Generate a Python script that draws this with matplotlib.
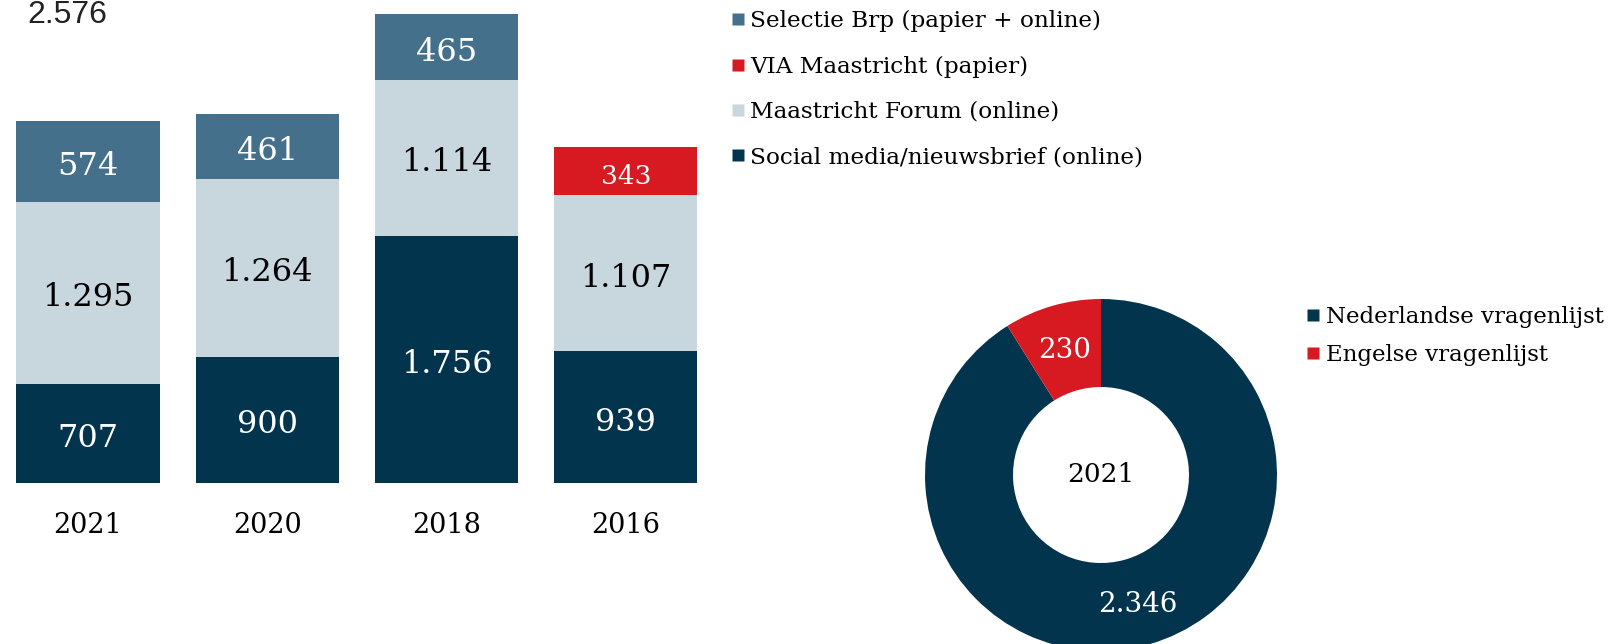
import matplotlib
matplotlib.use("Agg")
import matplotlib.pyplot as plt
import matplotlib.transforms as mtransforms
import numpy as np
from matplotlib.lines import Line2D

# data
jaren = ['2021', '2020', '2018', '2016']
social = [707, 900, 1756, 939]
forum = [1295, 1264, 1114, 1107]
brp = [574, 461, 465, 0]
via = [0, 0, 0, 343]
totaal_label = '2.576'

taal_labels = ['Nederlandse vragenlijst', 'Engelse vragenlijst']
taal_waarden = [2346, 230]
donut_jaar = '2021'

c_dark = '#02344D'
c_light = '#C8D6DD'
c_mid = '#45708B'
c_red = '#D71A21'

serif = 'DejaVu Serif'


def fmt(v):
    # Nederlandse notatie met punt als duizendtal-scheiding
    return f'{v:,}'.replace(',', '.')


W, H = 1619, 644
fig = plt.figure(figsize=(W / 100, H / 100), dpi=100)

# gestapelde staven
ax = fig.add_axes([-1.6 / W, 161 / H, 717 / W, 483 / H])
x = np.arange(len(jaren))
series = [
    ('Social media/nieuwsbrief (online)', social, c_dark, 'white', 23),
    ('Maastricht Forum (online)', forum, c_light, 'black', 23),
    ('Selectie Brp (papier + online)', brp, c_mid, 'white', 23),
    ('VIA Maastricht (papier)', via, c_red, 'white', 19),
]
tr = mtransforms.offset_copy(ax.transData, fig=fig, y=-5, units='dots')
bottom = np.zeros(len(jaren))
for naam, vals, kleur, tkleur, fs in series:
    vals = np.array(vals)
    ax.bar(x, vals, 0.8, bottom=bottom, color=kleur, edgecolor='none')
    for xi, b, v in zip(x, bottom, vals):
        if v > 0:
            ax.text(xi, b + v / 2, fmt(v), ha='center', va='center',
                    color=tkleur, fontsize=fs, family=serif, transform=tr)
    bottom = bottom + vals

ax.set_xlim(-0.5, 3.5)
ax.set_ylim(0, 3437)
ax.set_xticks(x)
ax.set_xticklabels(jaren, fontsize=19.5, family=serif)
ax.tick_params(axis='x', length=0, pad=21)
ax.set_yticks([])
for s in ax.spines.values():
    s.set_visible(False)

fig.text(27 / W, 1 - 23 / H, totaal_label, fontsize=23, family='Liberation Sans',
         color='#222222', va='baseline', ha='left')

# legenda staven
volgorde = [2, 3, 1, 0]
handles = [Line2D([], [], marker='s', linestyle='none', markersize=9,
                  markerfacecolor=series[i][2], markeredgecolor='none')
           for i in volgorde]
fig.legend(handles, [series[i][0] for i in volgorde], loc='upper left',
           bbox_to_anchor=(722 / W, 1 - 1 / H), frameon=False,
           prop={'family': serif, 'size': 16.7}, handlelength=0.55,
           handletextpad=0.25, labelspacing=1.0, borderaxespad=0)

# donut
r = 176
cx, cy = 1101, 475
dax = fig.add_axes([(cx - r) / W, (H - cy - r) / H, 2 * r / W, 2 * r / H])
wedges, _ = dax.pie(taal_waarden, colors=[c_dark, c_red], startangle=90,
                    counterclock=False, radius=1,
                    wedgeprops=dict(width=0.5, edgecolor='none'))
for w, v in zip(wedges, taal_waarden):
    ang = np.deg2rad((w.theta1 + w.theta2) / 2)
    dax.text(0.75 * np.cos(ang), 0.75 * np.sin(ang) - 0.015, fmt(v), ha='center',
             va='center', color='white', fontsize=20, family=serif)
dax.text(0, 0, donut_jaar, ha='center', va='center', fontsize=19, family=serif)
dax.set_xlim(-1, 1)
dax.set_ylim(-1, 1)
dax.set_aspect('equal')
dax.axis('off')

handles2 = [Line2D([], [], marker='s', linestyle='none', markersize=9,
                   markerfacecolor=c, markeredgecolor='none')
            for c in [c_dark, c_red]]
fig.legend(handles2, taal_labels, loc='upper left',
           bbox_to_anchor=(1298 / W, 1 - 297 / H), frameon=False,
           prop={'family': serif, 'size': 16.5}, handlelength=0.55,
           handletextpad=0.25, labelspacing=0.68, borderaxespad=0)

fig.savefig('out.png', dpi=100)
